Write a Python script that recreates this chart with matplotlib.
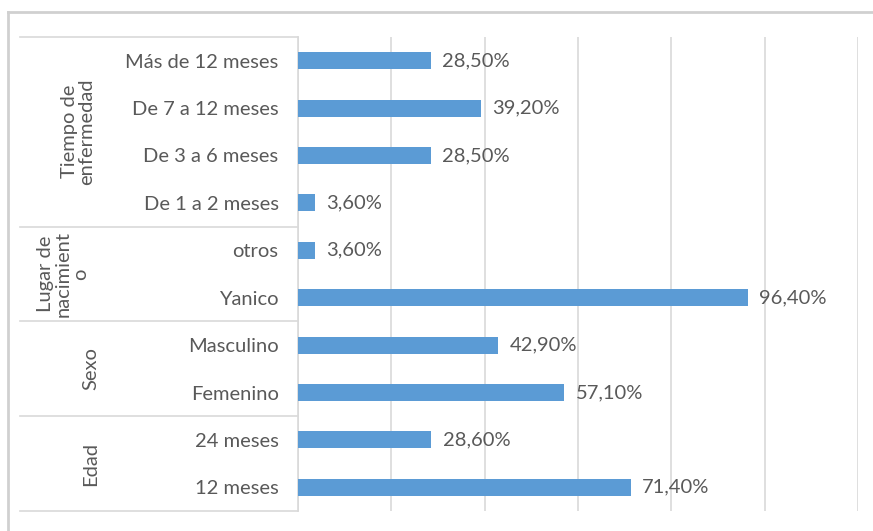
import matplotlib.pyplot as plt
from matplotlib.lines import Line2D
from matplotlib.patches import Rectangle
import numpy as np

# data (bottom to top, as drawn)
categories = ["12 meses", "24 meses", "Femenino", "Masculino", "Yanico", "otros",
              "De 1 a 2 meses", "De 3 a 6 meses", "De 7 a 12 meses", "Más de 12 meses"]
values = [71.4, 28.6, 57.1, 42.9, 96.4, 3.6, 3.6, 28.5, 39.2, 28.5]

groups = ["Edad", "Sexo", "Lugar de\nnacimient\no", "Tiempo de\nenfermedad"]
group_sizes = [2, 2, 2, 4]

x_ticks = [0, 20, 40, 60, 80, 100, 120]

# =========================
# style
# =========================
plt.rcParams["font.family"] = ["Lato", "DejaVu Sans"]
text_col = "#595959"
line_col = "#D9D9D9"
bar_col = "#5B9BD5"
fs = 14.5

fig = plt.figure(figsize=(8.73, 5.31), dpi=100)
ax = fig.add_axes([298 / 873, 20 / 531, 560 / 873, 474 / 531])

y = np.arange(len(categories))
bars = ax.barh(y, values, height=0.36, color=bar_col, zorder=3)

labels = [f"{v:.2f}%".replace(".", ",") for v in values]
ax.bar_label(bars, labels=labels, padding=8, fontsize=fs, color=text_col)

ax.set_xlim(0, 120)
ax.set_ylim(-0.5, len(categories) - 0.5)
ax.set_xticks(x_ticks)
ax.set_xticklabels([])
ax.grid(axis="x", color=line_col, linewidth=1.2, zorder=0)
ax.set_yticks(y)
ax.set_yticklabels(categories, fontsize=fs, color=text_col)
ax.tick_params(axis="y", length=0, pad=14)
ax.tick_params(axis="x", length=0)

for s in ["top", "right", "bottom"]:
    ax.spines[s].set_visible(False)
ax.spines["left"].set_color(line_col)
ax.spines["left"].set_linewidth(1.2)

# =========================
# multi-level category axis
# =========================
trans = ax.get_yaxis_transform()
x_left = (20 - 298) / 560
start = -0.5
bounds = [start]
for n in group_sizes:
    bounds.append(bounds[-1] + n)

for b in bounds:
    ax.add_line(Line2D([x_left, 0], [b, b], transform=trans, color=line_col,
                       linewidth=1.2, clip_on=False))

group_x = [-0.37, -0.37, -0.42, -0.393]
for g, lo, hi, gx in zip(groups, bounds[:-1], bounds[1:], group_x):
    t = ax.text(gx, (lo + hi) / 2, g, transform=trans, rotation=90,
                ha="center", va="center", fontsize=fs, color=text_col,
                linespacing=1.05, clip_on=True)
    clip = Rectangle((x_left, lo), -x_left, hi - lo, transform=trans)
    t.set_clip_path(clip)

# outer chart frame
fig.add_artist(Line2D([8 / 873, 1.0], [1 - 12 / 531, 1 - 12 / 531],
                      transform=fig.transFigure, color="#D0D0D0", linewidth=2))
fig.add_artist(Line2D([8 / 873, 8 / 873], [0, 1 - 12 / 531],
                      transform=fig.transFigure, color="#D0D0D0", linewidth=2))

fig.savefig("out.png", dpi=100)
